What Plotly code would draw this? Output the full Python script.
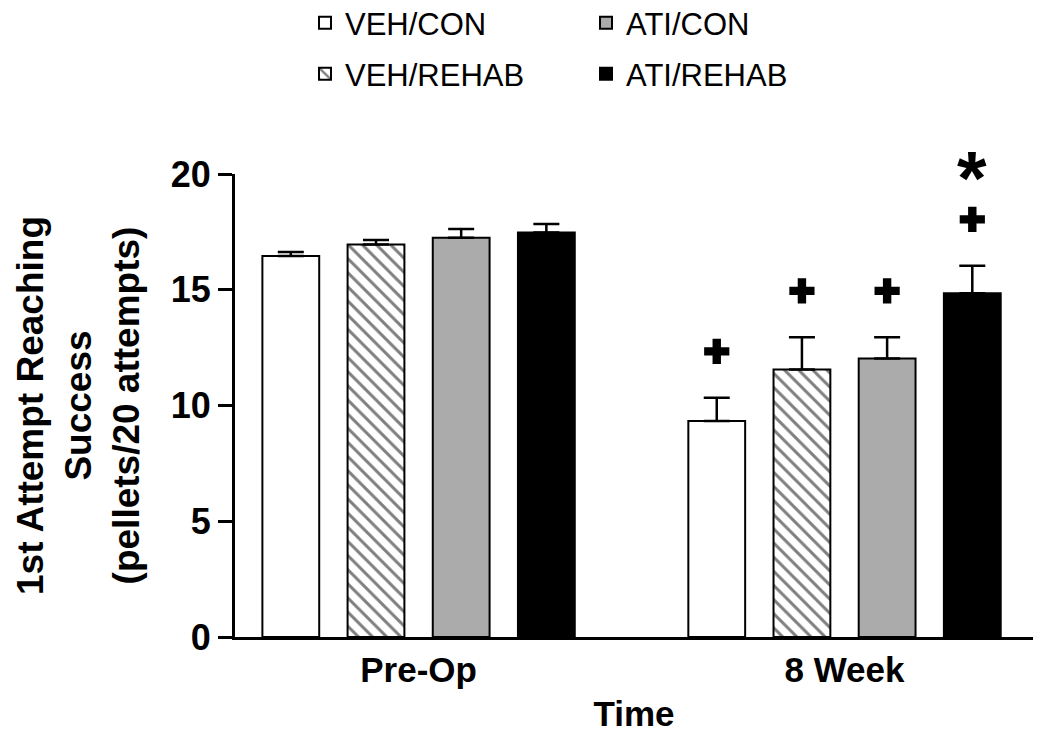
import plotly.graph_objects as go

# ---- data ----
categories = ["Pre-Op", "8 Week"]
groups = ["VEH/CON", "VEH/REHAB", "ATI/CON", "ATI/REHAB"]

veh_con_mean = [16.46, 9.33]
veh_con_sem = [0.17, 1.01]
veh_rehab_mean = [16.95, 11.56]
veh_rehab_sem = [0.20, 1.39]
ati_con_mean = [17.25, 12.03]
ati_con_sem = [0.37, 0.92]
ati_rehab_mean = [17.47, 14.85]
ati_rehab_sem = [0.37, 1.19]

# significance markers (+ vs Pre-Op, * vs other groups)
veh_con_plus = [False, True]
veh_rehab_plus = [False, True]
ati_con_plus = [False, True]
ati_rehab_plus = [False, True]
ati_rehab_star = [False, True]

means = [veh_con_mean, veh_rehab_mean, ati_con_mean, ati_rehab_mean]
sems = [veh_con_sem, veh_rehab_sem, ati_con_sem, ati_rehab_sem]
pluses = [veh_con_plus, veh_rehab_plus, ati_con_plus, ati_rehab_plus]
stars = [[False, False], [False, False], [False, False], ati_rehab_star]

fills = ["white", "white", "#ababab", "black"]
patterns = ["", "\\", "", ""]
legend_ids = ["legend", "legend2", "legend", "legend2"]

FONT = "Liberation Sans, Arial, sans-serif"

W, H = 1050, 755
ML, MR, MT, MB = 227, 25, 166, 126
XR = [-0.431, 1.4425]
YR = [0, 20]
BARGAP = 0.2

fig = go.Figure()

for i, g in enumerate(groups):
    fig.add_trace(go.Bar(
        name=g, x=categories, y=means[i],
        offsetgroup=str(i), alignmentgroup="a",
        marker=dict(color=fills[i], line=dict(color="black", width=2),
                    pattern=dict(shape=patterns[i], fgcolor="black", bgcolor="white",
                                 size=10, solidity=0.3)),
        error_y=dict(type="data", array=sems[i], arrayminus=[0] * len(sems[i]),
                     symmetric=False, color="black", thickness=2.5, width=13),
        legend=legend_ids[i],
    ))

# significance markers placed above error bars
PLUS_GAP = 2.0
STAR_GAP = 2.2
px_per_x = (W - ML - MR) / (XR[1] - XR[0])
px_per_y = (H - MT - MB) / (YR[1] - YR[0])
slot_px = (1 - BARGAP) / len(groups) * px_per_x
annotations = []
for i, g in enumerate(groups):
    px, py = [], []
    for j, c in enumerate(categories):
        top = means[i][j] + sems[i][j]
        if pluses[i][j]:
            px.append(c); py.append(top + PLUS_GAP)
        if stars[i][j]:
            # anchor inside the axis range, lift by the star gap in pixels
            annotations.append(dict(
                x=c, y=top + PLUS_GAP, xref="x", yref="y",
                text="*", showarrow=False, xanchor="center", yanchor="middle",
                xshift=(i - (len(groups) - 1) / 2) * slot_px,
                yshift=STAR_GAP * px_per_y - 9,
                font=dict(family=FONT, size=76, color="black", weight="bold")))
    if px:
        fig.add_trace(go.Scatter(
            x=px, y=py, mode="markers", offsetgroup=str(i), alignmentgroup="a",
            marker=dict(symbol="cross", size=21, color="black", line=dict(width=0)),
            showlegend=False, cliponaxis=False, hoverinfo="skip"))

leg_common = dict(orientation="h", xref="container", yref="container",
                  xanchor="left", yanchor="middle",
                  font=dict(family=FONT, size=31), entrywidth=236,
                  bgcolor="rgba(0,0,0,0)", traceorder="normal")

fig.update_layout(
    width=W, height=H, autosize=False,
    margin=dict(l=ML, r=MR, t=MT, b=MB),
    paper_bgcolor="white", plot_bgcolor="white",
    barmode="group", bargap=BARGAP, bargroupgap=0.333,
    scattermode="group", scattergap=BARGAP,
    font=dict(family=FONT, color="black"),
    legend=dict(x=297 / W, y=1 - 15 / H, **leg_common),
    legend2=dict(x=297 / W, y=1 - 66 / H, **leg_common),
    annotations=annotations,
    xaxis=dict(range=XR, showline=True, linecolor="black", linewidth=3,
               ticks="", showgrid=False, zeroline=False, automargin=False,
               tickfont=dict(family=FONT, size=35, weight="bold"),
               title=dict(text="Time", font=dict(family=FONT, size=35, weight="bold"),
                          standoff=14)),
    yaxis=dict(range=YR, dtick=5, showline=True, linecolor="black", linewidth=3,
               ticks="outside", ticklen=14, tickwidth=3, tickcolor="black",
               showgrid=False, zeroline=False, automargin=False,
               tickfont=dict(family=FONT, size=36, weight="bold"),
               title=dict(text="1st Attempt Reaching<br>Success<br>(pellets/20 attempts)",
                          font=dict(family=FONT, size=37, weight="bold"), standoff=20)),
)

fig.write_html("out.html")
